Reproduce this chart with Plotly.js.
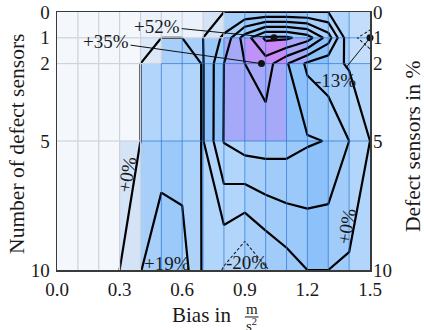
<!DOCTYPE html>
<html>
<head>
<meta charset="utf-8">
<script src="https://cdn.plot.ly/plotly-3.0.1.min.js"></script>
<style>
  html, body { margin: 0; padding: 0; background: #ffffff; }
  #chart { width: 424px; height: 330px; }
</style>
</head>
<body>
<div id="chart"></div>
<script>
// Grid nodes: bias in m/s^2 and number of defect sensors
const biasEdges = [0.0, 0.1, 0.2, 0.3, 0.4, 0.5, 0.6, 0.7, 0.8, 0.9, 1.0, 1.1, 1.2, 1.3, 1.4, 1.5];
const sensorEdges = [0, 1, 2, 5, 10];

const xTickVals = [0.0, 0.3, 0.6, 0.9, 1.2, 1.5];
const xTickText = ['0.0', '0.3', '0.6', '0.9', '1.2', '1.5'];
const yTickVals = [0, 1, 2, 5, 10];
const yTickText = ['0', '1', '2', '5', '10'];

// Background shading of each cell, one row per sensor band (0-1, 1-2, 2-5, 5-10)
const shadeBand01 = [0, 0, 0, 0, 0.05, 0.05, 0.05, 0.2, 0.5, 0.6, 0.6, 0.6, 0.5, 0.4, 0.3];
const shadeBand12 = [0, 0, 0, 0, 0.15, 0.5, 0.5, 0.6, 0.8, 0.95, 1.0, 0.8, 0.7, 0.5, 0.3];
const shadeBand25 = [0, 0, 0, 0, 0.4, 0.4, 0.4, 0.7, 0.8, 0.8, 0.8, 0.7, 0.6, 0.5, 0.4];
const shadeBand510 = [0, 0, 0, 0.2, 0.5, 0.6, 0.45, 0.4, 0.4, 0.5, 0.55, 0.6, 0.7, 0.55, 0.4];

// Relative change in % at the grid nodes, one row per sensor count
const change0 = [0, 0, 0, 0, 0, 0, 0, 0, 0, 0, 0, 0, 0, 0, -2, -3];
const change1 = [0, 0, 0, 0, 0, 0, 0, 0, 12, 35, 52, 52, 45, 25, -8, -13];
const change2 = [0, 0, 0, 0, 0, 4, 5, -0.5, 20, 30, 35, 21, 8, 3, -1, -6];
const change5 = [0, 0, 0, 0, 0, 4, 5, -0.5, 20.5, 25, 25, 24, 21, 19.6, 10, 0];
const change10 = [0, 0, 0, 0, 9.5, 19, 15, -1.3, -11, -20, -11, -5, 0, 0, -1.6, -3];

// Marked extrema
const peakBias = [1.04, 0.98, 1.5];
const peakSensors = [1, 2, 1];
const peakValue = [52, 35, -13];
const peakLabelBias = [0.48, 0.235, 1.337];
const peakLabelSensors = [0.55, 1.15, 2.64];

const shadeRows = [shadeBand01, shadeBand12, shadeBand25, shadeBand510];
const changeRows = [change0, change1, change2, change5, change10];

const shadeScale = [
  [0.00, '#f4f8fd'],
  [0.10, '#e2ecf8'],
  [0.20, '#d4e4f6'],
  [0.30, '#c3ddfb'],
  [0.40, '#b2d6fb'],
  [0.50, '#a7cffa'],
  [0.60, '#9bc9fa'],
  [0.70, '#8cc1fa'],
  [0.80, '#a5a9f7'],
  [0.90, '#b699f7'],
  [1.00, '#c88af7']
];

function pct(v) { return (v >= 0 ? '+' : '') + v + '%'; }

// Cell edge lines: grey over the pale cells, blue over the coloured ones
const greyX = [], greyY = [], blueX = [], blueY = [];
function edge(v, x0, y0, x1, y1) {
  const X = v >= 0.25 ? blueX : greyX;
  const Y = v >= 0.25 ? blueY : greyY;
  X.push(x0, x1, null); Y.push(y0, y1, null);
}
for (let r = 0; r < shadeRows.length; r++) {
  for (let j = 1; j < biasEdges.length - 1; j++) {
    edge(Math.min(shadeRows[r][j - 1], shadeRows[r][j]), biasEdges[j], sensorEdges[r], biasEdges[j], sensorEdges[r + 1]);
  }
}
for (let r = 1; r < shadeRows.length; r++) {
  for (let c = 0; c < biasEdges.length - 1; c++) {
    edge(Math.min(shadeRows[r - 1][c], shadeRows[r][c]), biasEdges[c], sensorEdges[r], biasEdges[c + 1], sensorEdges[r]);
  }
}

const FONT = 'Liberation Serif, Times New Roman, serif';
const INK = '#1a1a1a';
const LABEL = { family: FONT, size: 19, color: INK };
const TITLE = { family: FONT, size: 21.5, color: INK };

const traces = [
  {
    type: 'heatmap', x: biasEdges, y: sensorEdges, z: shadeRows,
    colorscale: shadeScale, zmin: 0, zmax: 1, showscale: false, hoverinfo: 'skip'
  },
  {
    type: 'scatter', mode: 'lines', x: greyX, y: greyY,
    line: { color: '#cfd3d9', width: 1.2 }, hoverinfo: 'skip', showlegend: false
  },
  {
    type: 'scatter', mode: 'lines', x: blueX, y: blueY,
    line: { color: 'rgba(30,110,210,0.65)', width: 1 }, hoverinfo: 'skip', showlegend: false
  },
  {
    type: 'contour', x: biasEdges, y: sensorEdges, z: changeRows,
    autocontour: false, contours: { start: -10, end: -10, size: 10, coloring: 'none' },
    line: { color: INK, width: 1.1, dash: '3px,2px', smoothing: 0 },
    showscale: false, hoverinfo: 'skip'
  },
  {
    type: 'contour', x: biasEdges, y: sensorEdges, z: changeRows,
    autocontour: false, contours: { start: 0.001, end: 50.001, size: 10, coloring: 'none' },
    line: { color: '#000000', width: 2.2, smoothing: 0 },
    showscale: false, hoverinfo: 'skip'
  },
  {
    type: 'scatter', mode: 'markers', x: peakBias, y: peakSensors,
    marker: { color: '#111111', size: 7 }, hoverinfo: 'skip', showlegend: false, cliponaxis: false
  },
  {
    type: 'scatter', mode: 'markers', x: [null], y: [null], yaxis: 'y2',
    hoverinfo: 'skip', showlegend: false
  }
];

const annotations = [];
for (let i = 0; i < peakValue.length; i++) {
  annotations.push({
    x: peakBias[i], y: peakSensors[i], xref: 'x', yref: 'y',
    ax: peakLabelBias[i], ay: peakLabelSensors[i], axref: 'x', ayref: 'y',
    text: pct(peakValue[i]), showarrow: true, arrowhead: 0, arrowwidth: 1,
    arrowcolor: '#111111', font: LABEL
  });
}
// Contour and extremum labels along the lines
function note(x, y, text, angle) {
  return { x: x, y: y, xref: 'x', yref: 'y', xanchor: 'center', yanchor: 'middle',
           text: text, textangle: angle || 0, showarrow: false, font: LABEL };
}
annotations.push(
  note(0.335, 6.3, pct(change0[0]), -80),
  note(1.385, 8.3, pct(change0[0]), -80),
  note(0.527, 9.73, pct(change10[5])),
  note(0.91, 9.7, pct(change10[9]))
);
// Axis titles
function paperText(x, y, text, font, angle, xanchor) {
  return { x: x, y: y, xref: 'paper', yref: 'paper', xanchor: xanchor || 'center', yanchor: 'middle',
           text: text, textangle: angle || 0, showarrow: false, font: font };
}
annotations.push(
  paperText(-0.13, 0.49, 'Number of defect sensors', TITLE, -90),
  paperText(1.137, 0.48, 'Defect sensors in %', TITLE, -90),
  paperText(0.562, -0.174, 'Bias in', { family: FONT, size: 21, color: INK }, 0, 'right'),
  paperText(0.622, -0.153, 'm', { family: FONT, size: 15, color: INK }),
  paperText(0.622, -0.215, 's<sup>2</sup>', { family: FONT, size: 15, color: INK })
);

const axisCommon = {
  showgrid: false, zeroline: false, ticks: '', showline: true,
  linecolor: '#3a3a3a', linewidth: 1.5, mirror: true,
  tickfont: LABEL
};

const layout = {
  width: 424, height: 330,
  margin: { l: 57, r: 54, t: 12, b: 60 },
  paper_bgcolor: '#ffffff', plot_bgcolor: '#ffffff',
  showlegend: false,
  xaxis: Object.assign({}, axisCommon, {
    range: [0, 1.5], tickvals: xTickVals, ticktext: xTickText, ticklabelstandoff: 2
  }),
  yaxis: Object.assign({}, axisCommon, {
    range: [10, 0], tickvals: yTickVals, ticktext: yTickText, ticklabelstandoff: 2
  }),
  yaxis2: Object.assign({}, axisCommon, {
    overlaying: 'y', side: 'right', range: [10, 0],
    tickvals: yTickVals, ticktext: yTickText, showline: false, ticklabelstandoff: 2
  }),
  shapes: [
    { type: 'line', xref: 'paper', yref: 'paper', x0: 0.6, x1: 0.644, y0: -0.182, y1: -0.182,
      line: { color: INK, width: 1 } }
  ],
  annotations: annotations
};

Plotly.newPlot('chart', traces, layout, { displayModeBar: false, staticPlot: true });
</script>
</body>
</html>
